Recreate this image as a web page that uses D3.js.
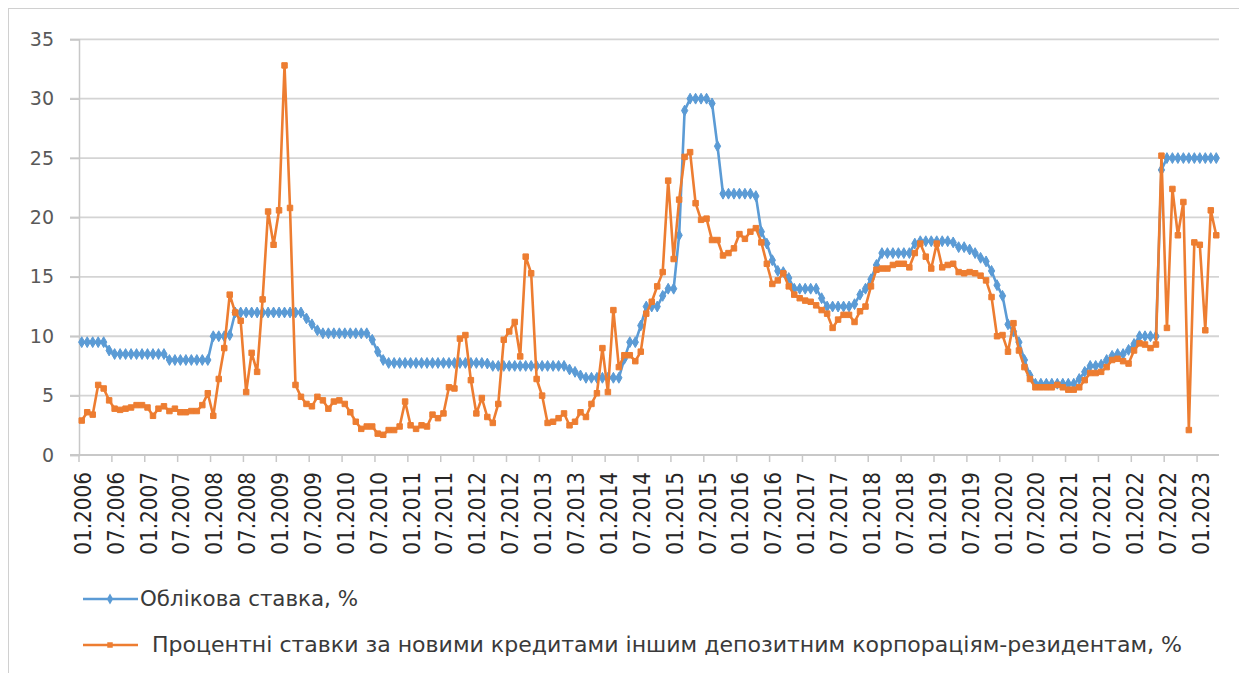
<!DOCTYPE html>
<html>
<head>
<meta charset="utf-8">
<script src="https://cdn.jsdelivr.net/npm/d3@7"></script>
<style>
  html, body { margin: 0; padding: 0; background: #ffffff; }
  svg { display: block; }
</style>
</head>
<body>
<div id="chart"></div>
<script>
const YEARS = [2006, 2007, 2008, 2009, 2010, 2011, 2012, 2013, 2014, 2015, 2016, 2017, 2018, 2019, 2020, 2021, 2022, 2023];
const MONTHS = ["01", "02", "03", "04", "05", "06", "07", "08", "09", "10", "11", "12"];
const MONTH_COUNT = 208; // 01.2006 .. 04.2023

const Y_TICKS = [0, 5, 10, 15, 20, 25, 30, 35];

// Облікова ставка, %
const DISCOUNT_RATE = [
  9.5, 9.5, 9.5, 9.5, 9.5, 8.8, 8.5, 8.5, 8.5, 8.5, 8.5, 8.5,
  8.5, 8.5, 8.5, 8.5, 8.0, 8.0, 8.0, 8.0, 8.0, 8.0, 8.0, 8.0,
  10, 10, 10, 10.1, 12, 12, 12, 12, 12, 12, 12, 12,
  12, 12, 12, 12, 12, 11.5, 11, 10.5, 10.25, 10.25, 10.25, 10.25,
  10.25, 10.25, 10.25, 10.25, 10.25, 9.7, 8.7, 8.0, 7.75, 7.75, 7.75, 7.75,
  7.75, 7.75, 7.75, 7.75, 7.75, 7.75, 7.75, 7.75, 7.75, 7.75, 7.75, 7.75,
  7.75, 7.75, 7.7, 7.5, 7.5, 7.5, 7.5, 7.5, 7.5, 7.5, 7.5, 7.5,
  7.5, 7.5, 7.5, 7.5, 7.5, 7.2, 7.0, 6.7, 6.5, 6.5, 6.5, 6.5,
  6.5, 6.5, 6.5, 8.1, 9.5, 9.5, 10.9, 12.5, 12.5, 12.5, 13.4, 14,
  14, 18.5, 29.0, 30, 30, 30, 30, 29.6, 26.0, 22, 22, 22,
  22, 22, 22, 21.8, 18.8, 17.8, 16.4, 15.5, 15.4, 14.9, 14, 14,
  14, 14, 14, 13.2, 12.5, 12.5, 12.5, 12.5, 12.5, 12.7, 13.5, 14.0,
  14.8, 16, 17, 17, 17, 17, 17, 17, 17.8, 18, 18, 18,
  18, 18, 18, 17.9, 17.5, 17.5, 17.3, 17.0, 16.6, 16.3, 15.5, 14.3,
  13.4, 11, 10.4, 9.5, 8.0, 6.7, 6, 6, 6, 6, 6, 6,
  6, 6, 6.4, 7.0, 7.5, 7.5, 7.6, 8.0, 8.35, 8.5, 8.5, 8.85,
  9.35, 10, 10, 10, 10, 24, 25, 25, 25, 25, 25, 25,
  25, 25, 25, 25
];

// Процентні ставки за новими кредитами іншим депозитним корпораціям-резидентам, %
const LOAN_RATE = [
  2.9, 3.6, 3.4, 5.9, 5.6, 4.6, 3.9, 3.8, 3.9, 4.0, 4.2, 4.2,
  4.0, 3.3, 3.9, 4.1, 3.7, 3.9, 3.6, 3.6, 3.7, 3.7, 4.2, 5.2,
  3.3, 6.4, 9.0, 13.5, 12.0, 11.3, 5.3, 8.6, 7.0, 13.1, 20.5, 17.7,
  20.6, 32.8, 20.8, 5.9, 4.9, 4.3, 4.1, 4.9, 4.6, 3.9, 4.5, 4.6,
  4.3, 3.6, 2.8, 2.2, 2.4, 2.4, 1.8, 1.7, 2.1, 2.1, 2.4, 4.5,
  2.5, 2.2, 2.5, 2.4, 3.4, 3.1, 3.5, 5.7, 5.6, 9.8, 10.1, 6.3,
  3.5, 4.8, 3.2, 2.7, 4.3, 9.7, 10.4, 11.2, 8.3, 16.7, 15.3, 6.4,
  5.0, 2.7, 2.8, 3.1, 3.5, 2.5, 2.8, 3.6, 3.2, 4.3, 5.2, 9.0,
  5.3, 12.2, 7.4, 8.4, 8.4, 7.9, 8.7, 11.9, 12.9, 14.2, 15.4, 23.1,
  16.5, 21.5, 25.1, 25.5, 21.2, 19.8, 19.9, 18.1, 18.1, 16.8, 17.0, 17.4,
  18.6, 18.2, 18.8, 19.1, 17.9, 16.1, 14.4, 14.7, 15.3, 14.2, 13.5, 13.2,
  13.0, 12.9, 12.6, 12.2, 11.9, 10.7, 11.4, 11.8, 11.8, 11.2, 12.1, 12.5,
  14.2, 15.6, 15.7, 15.7, 16.0, 16.1, 16.1, 15.8, 17.0, 17.8, 16.7, 15.7,
  17.8, 15.8, 16.0, 16.1, 15.4, 15.3, 15.4, 15.3, 15.1, 14.7, 13.3, 10.0,
  10.1, 8.7, 11.1, 8.8, 7.4, 6.4, 5.7, 5.7, 5.7, 5.7, 5.9, 5.7,
  5.5, 5.5, 5.7, 6.3, 6.9, 6.9, 7.0, 7.4, 8.0, 8.1, 7.9, 7.7,
  8.8, 9.4, 9.3, 9.0, 9.3, 25.2, 10.7, 22.4, 18.5, 21.3, 2.1, 17.9,
  17.7, 10.5, 20.6, 18.5
];

const CATEGORIES = YEARS.flatMap((year) => MONTHS.map((m) => `${m}.${year}`)).slice(0, MONTH_COUNT);
const LABEL_STEP = 6;

const SERIES = [
  { label: "Облікова ставка, %", values: DISCOUNT_RATE, color: "#5b9bd5", symbol: d3.symbolDiamond, size: 34 },
  { label: "Процентні ставки за новими кредитами іншим депозитним корпораціям-резидентам, %", values: LOAN_RATE, color: "#ed7d31", symbol: d3.symbolSquare, size: 30 },
];

const width = 1239;
const height = 673;
const plot = { left: 79, right: 1219, top: 39.3, bottom: 455 };
const FONT = "'DejaVu Sans', sans-serif";

const svg = d3.select("#chart")
  .append("svg")
  .attr("width", width)
  .attr("height", height);

svg.append("rect")
  .attr("x", 8.5)
  .attr("y", 8.5)
  .attr("width", width + 10)
  .attr("height", height + 10)
  .attr("fill", "#ffffff")
  .attr("stroke", "#d0d0d0")
  .attr("stroke-width", 1);

const x = d3.scaleBand()
  .domain(CATEGORIES)
  .range([plot.left, plot.right])
  .padding(0);

const y = d3.scaleLinear()
  .domain([0, 35])
  .range([plot.bottom, plot.top]);

const bw = x.bandwidth();
const cx = (cat) => x(cat) + bw / 2;

// horizontal gridlines
svg.append("g")
  .selectAll("line")
  .data(Y_TICKS.filter((t) => t > 0))
  .join("line")
  .attr("x1", plot.left - 9)
  .attr("x2", plot.right)
  .attr("y1", (d) => y(d))
  .attr("y2", (d) => y(d))
  .attr("stroke", "#d4d4d4")
  .attr("stroke-width", 1.8);

// y axis
const yAxis = svg.append("g")
  .attr("transform", `translate(${plot.left},0)`)
  .call(d3.axisLeft(y).tickValues(Y_TICKS).tickSize(9).tickPadding(16));
yAxis.select(".domain").attr("stroke", "#c8c8c8").attr("stroke-width", 1.5);
yAxis.selectAll(".tick line").attr("stroke", "#c8c8c8").attr("stroke-width", 1.5);
yAxis.selectAll(".tick text")
  .attr("font-family", FONT)
  .attr("font-size", 19)
  .attr("fill", "#595959");

// x axis
const xAxis = svg.append("g");
xAxis.append("line")
  .attr("x1", plot.left - 9)
  .attr("x2", plot.right)
  .attr("y1", plot.bottom)
  .attr("y2", plot.bottom)
  .attr("stroke", "#c8c8c8")
  .attr("stroke-width", 1.8);

const labelCats = CATEGORIES.filter((d, i) => i % LABEL_STEP === 0);

xAxis.selectAll("line.tick")
  .data(labelCats)
  .join("line")
  .attr("class", "tick")
  .attr("x1", (d) => x(d))
  .attr("x2", (d) => x(d))
  .attr("y1", plot.bottom)
  .attr("y2", plot.bottom + 7)
  .attr("stroke", "#c8c8c8")
  .attr("stroke-width", 1.5);

xAxis.selectAll("text")
  .data(labelCats)
  .join("text")
  .attr("transform", (d) => `translate(${cx(d) + 1},${plot.bottom + 17}) scale(1.15,1) rotate(-90)`)
  .attr("text-anchor", "end")
  .attr("dominant-baseline", "central")
  .attr("font-family", FONT)
  .attr("font-size", 20)
  .attr("fill", "#262626")
  .text((d) => d);

// series
const line = d3.line()
  .x((d) => cx(d.cat))
  .y((d) => y(d.value));

SERIES.forEach((s) => {
  const pts = CATEGORIES.map((cat, i) => ({ cat, value: s.values[i] }));
  const g = svg.append("g");
  g.append("path")
    .datum(pts)
    .attr("fill", "none")
    .attr("stroke", s.color)
    .attr("stroke-width", 2.6)
    .attr("stroke-linejoin", "round")
    .attr("d", line);
  g.selectAll("path.marker")
    .data(pts)
    .join("path")
    .attr("class", "marker")
    .attr("transform", (d) => `translate(${cx(d.cat)},${y(d.value)})`)
    .attr("d", d3.symbol().type(s.symbol).size(s.size))
    .attr("fill", s.color)
    .attr("stroke", s.color)
    .attr("stroke-width", 1);
});

// legend
const legendRows = [
  { y: 599, textX: 140, textLength: 218 },
  { y: 645, textX: 152, textLength: 1030 },
];

SERIES.forEach((s, i) => {
  const row = svg.append("g");
  const r = legendRows[i];
  row.append("line")
    .attr("x1", 83)
    .attr("x2", 138)
    .attr("y1", r.y)
    .attr("y2", r.y)
    .attr("stroke", s.color)
    .attr("stroke-width", 2.6);
  row.append("path")
    .attr("transform", `translate(110,${r.y})`)
    .attr("d", d3.symbol().type(s.symbol).size(s.size))
    .attr("fill", s.color);
  row.append("text")
    .attr("x", r.textX)
    .attr("y", r.y)
    .attr("dominant-baseline", "central")
    .attr("font-family", FONT)
    .attr("font-size", 21)
    .attr("fill", "#3a3a3a")
    .attr("textLength", r.textLength)
    .attr("lengthAdjust", "spacingAndGlyphs")
    .text(s.label);
});
</script>
</body>
</html>
